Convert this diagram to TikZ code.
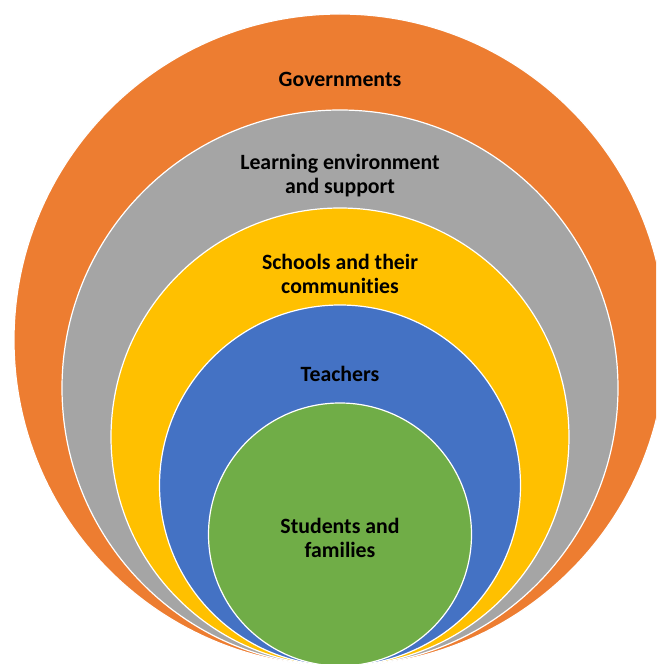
\documentclass[tikz,border=0pt]{standalone}
\usepackage{fontspec}
\setmainfont[Ligatures=NoCommon]{Carlito}
\definecolor{cOrange}{HTML}{ED7D31}
\definecolor{cGray}{HTML}{A5A5A5}
\definecolor{cYellow}{HTML}{FFC000}
\definecolor{cBlue}{HTML}{4472C4}
\definecolor{cGreen}{HTML}{70AD47}
\tikzset{
  ring/.style={circle, draw=white, line width=1.2pt, inner sep=0pt, outer sep=0pt},
  lbl/.style={font=\fontsize{21.8}{24}\selectfont\bfseries, align=center, text=black, inner sep=0pt}
}
\begin{document}
\begin{tikzpicture}[x=1pt,y=1pt]
\useasboundingbox (0,0) rectangle (656,664);
\clip (0,0) rectangle (656,664);
\node[ring, fill=cOrange, minimum size=652pt] (orange) at (340,324) {};
\node[ring, fill=cGray, minimum size=556pt] (gray) at (340,276) {};
\node[ring, fill=cYellow, minimum size=458pt] (yellow) at (340,227) {};
\node[ring, fill=cBlue, minimum size=361pt] (blue) at (340,178.5) {};
\node[ring, fill=cGreen, minimum size=263pt] (green) at (340,129.5) {};
\node[lbl] (t1) at (340,585) {Governments};
\node[lbl] (t2) at (340,488) {Learning environment\\and support};
\node[lbl] (t3) at (340,390) {Schools and their\\communities};
\node[lbl] (t4) at (340,290) {Teachers};
\node[lbl] (t5) at (340,126) {Students and\\families};
\end{tikzpicture}
\end{document}
